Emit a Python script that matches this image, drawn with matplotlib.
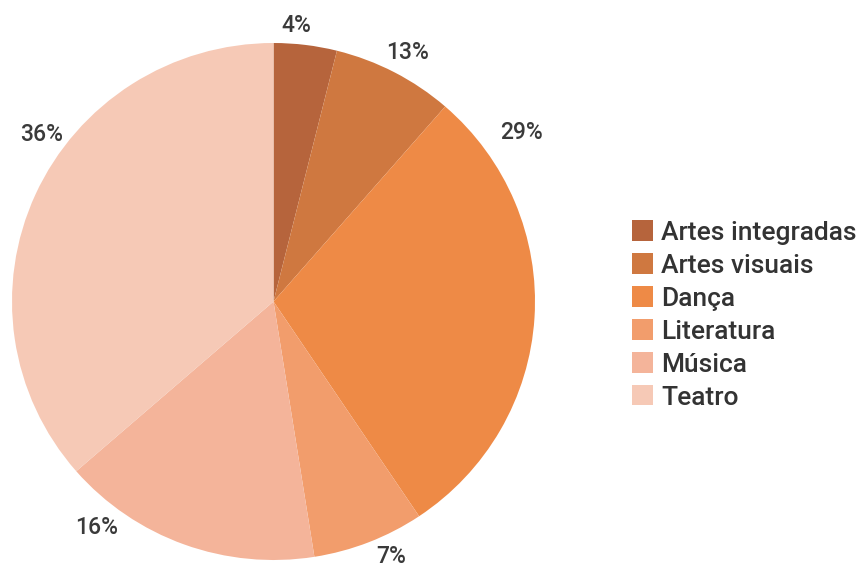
import matplotlib.pyplot as plt
import numpy as np
from matplotlib.patches import Patch

# categories and values (slice sizes, labels as printed)
categories = ['Artes integradas', 'Artes visuais', 'Dança', 'Literatura', 'Música', 'Teatro']
shares = [3.9, 7.5, 29.2, 6.9, 16.1, 36.4]
pct_labels = ['4%', '13%', '29%', '7%', '16%', '36%']
colors = ['#B6643C', '#CF7840', '#EE8A46', '#F29D6C', '#F4B49A', '#F6C9B6']

plt.rcParams['font.family'] = ['Roboto', 'DejaVu Sans']

W, H = 867, 569
fig = plt.figure(figsize=(W / 100, H / 100), dpi=100)
# pie box: centre (273.5, 301.5) px, radii 261.5 x 258.5 px
ax = fig.add_axes([12 / W, (H - 560) / H, 523 / W, 517 / H])

ax.pie(shares, colors=colors, startangle=90, counterclock=False,
       wedgeprops=dict(linewidth=0), radius=1.0)
ax.set_xlim(-1, 1)
ax.set_ylim(-1, 1)
ax.set_aspect('auto')
ax.axis('off')

# label spots (angle clockwise from top in degrees, radius)
label_spots = [(4.6, 1.07), (28, 1.093), (55.5, 1.152), (155.6, 1.085), (217.7, 1.103), (306, 1.097)]
for txt, (ang, r) in zip(pct_labels, label_spots):
    a = np.deg2rad(ang)
    ax.text(r * np.sin(a), r * np.cos(a), txt, ha='center', va='center',
            fontsize=16.5, color='#3a3a3a', fontweight='medium', clip_on=False)

handles = [Patch(facecolor=c, edgecolor='none') for c in colors]
fig.legend(handles, categories, loc='center left', bbox_to_anchor=(632 / W, 1 - 315 / H),
           frameon=False, borderpad=0, borderaxespad=0,
           prop=dict(size=19, weight='medium'), handlelength=0.8, handleheight=0.8,
           handletextpad=0.3, labelspacing=0.33, labelcolor='#333333')

fig.savefig('out.png', dpi=100)
